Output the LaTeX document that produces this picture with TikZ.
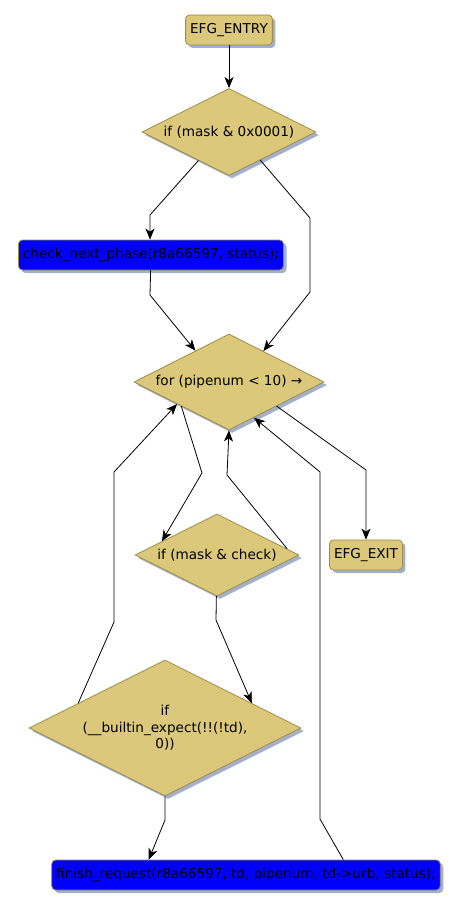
\documentclass[tikz,border=0pt]{standalone}
\usepackage{fontspec}
\setmainfont{DejaVu Sans}
\usetikzlibrary{shapes.geometric,shadows,arrows.meta}
\definecolor{efgtan}{RGB}{219,200,122}
\definecolor{efgedge}{RGB}{160,140,70}
\definecolor{efgshade}{RGB}{160,176,205}
\begin{document}
\begin{tikzpicture}[x=1pt,y=-1pt,
	base/.style={draw=efgedge,line width=0.8pt,font=\fontsize{13.6}{16.5}\selectfont,
		drop shadow={shadow xshift=3pt,shadow yshift=-3pt,fill=efgshade,opacity=1}},
	term/.style={base,rectangle,rounded corners=4pt,fill=efgtan,minimum height=30pt,inner xsep=4.5pt},
	stmt/.style={term,fill=blue},
	cond/.style={base,diamond,aspect=2,fill=efgtan,inner sep=0pt,align=center},
	flow/.style={line width=0.8pt,-{Stealth[length=11pt,width=9pt,inset=3pt]}}]
				\useasboundingbox (0,0) rectangle (461,909);
				\node[term] (entry) at (229,30) {EFG\_ENTRY};
				\node[cond,minimum width=174pt,minimum height=87pt] (mask) at (229,132) {if (mask \& 0x0001)};
				\node[stmt] (check) at (151,255) {check\_next\_phase(r8a66597, status);};
				\node[cond,minimum width=190pt,minimum height=96pt] (loop) at (229,382) {for (pipenum < 10) →};
				\node[cond,minimum width=164pt,minimum height=82pt] (test) at (217,555) {if (mask \& check)};
				\node[term] (exit) at (366,555) {EFG\_EXIT};
				\node[cond,minimum width=272pt,minimum height=136pt] (expect) at (165,728) {if\\(\_\_builtin\_expect(!!(!td),\\0))};
				\node[stmt] (finish) at (246,875) {finish\_request(r8a66597, td, pipenum, td->urb, status);};
				\coordinate (a1) at (150,215);
				\coordinate (b1) at (310,218);
				\coordinate (b2) at (310,292);
				\coordinate (c1) at (150,295);
				\coordinate (d1) at (202,473);
				\coordinate (e1) at (227,475);
				\coordinate (f1) at (366,470);
				\coordinate (g1) at (216,620);
				\coordinate (h1) at (114,622);
				\coordinate (h2) at (114,472);
				\coordinate (k1) at (320,819);
				\coordinate (k2) at (320,472);
				\coordinate (m1) at (165,820);
				\draw[flow] (entry) -- (mask);
				\draw[flow] (mask.223) -- (a1) -- (a1 |- check.north);
				\draw[flow] (mask.318) -- (b1) -- (b2) -- (loop.42);
				\draw[flow] (check) -- (c1) -- (loop.137);
				\draw[flow] (loop.south west) -- (d1) -- (test.166);
				\draw[flow] (test.5) -- (e1) -- (loop.south);
				\draw[flow] (loop.south east) -- (f1) -- (exit);
				\draw[flow] (test) -- (g1) -- (expect.16);
				\draw[flow] (expect.164) -- (h1) -- (h2) -- (loop.203);
				\draw[flow] (finish.9) -- (k1) -- (k2) -- (loop.305);
				\draw[flow] (expect) -- (m1) -- (finish.171);
\end{tikzpicture}
\end{document}
